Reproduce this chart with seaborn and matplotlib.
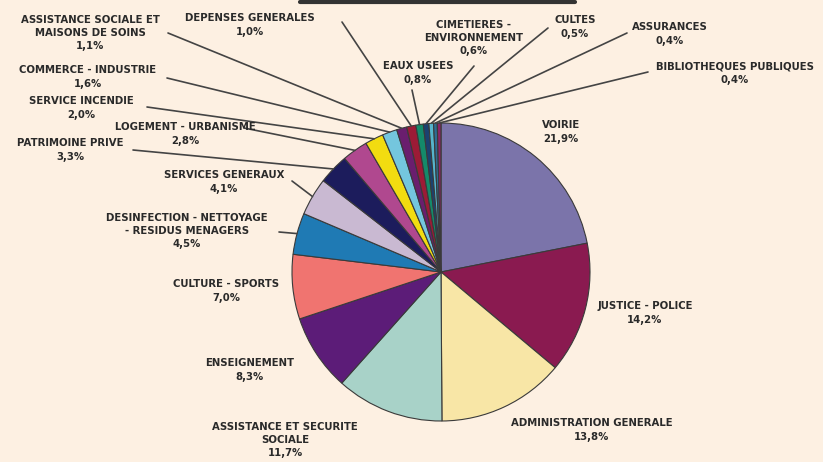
import numpy as np
import matplotlib.pyplot as plt
import seaborn as sns
from matplotlib.lines import Line2D

# Budget shares (%), clockwise from 12 o'clock
categories = [
    'VOIRIE', 'JUSTICE - POLICE', 'ADMINISTRATION GENERALE',
    'ASSISTANCE ET SECURITE\nSOCIALE', 'ENSEIGNEMENT', 'CULTURE - SPORTS',
    'DESINFECTION - NETTOYAGE\n- RESIDUS MENAGERS', 'SERVICES GENERAUX',
    'PATRIMOINE PRIVE', 'LOGEMENT - URBANISME', 'SERVICE INCENDIE',
    'COMMERCE - INDUSTRIE', 'ASSISTANCE SOCIALE ET\nMAISONS DE SOINS',
    'DEPENSES GENERALES', 'EAUX USEES', 'CIMETIERES -\nENVIRONNEMENT',
    'CULTES', 'ASSURANCES', 'BIBLIOTHEQUES PUBLIQUES',
]
shares = [21.9, 14.2, 13.8, 11.7, 8.3, 7.0, 4.5, 4.1, 3.3, 2.8, 2.0,
          1.6, 1.1, 1.0, 0.8, 0.6, 0.5, 0.4, 0.4]
share_labels = ['21,9%', '14,2%', '13,8%', '11,7%', '8,3%', '7,0%', '4,5%',
                '4,1%', '3,3%', '2,8%', '2,0%', '1,6%', '1,1%', '1,0%',
                '0,8%', '0,6%', '0,5%', '0,4%', '0,4%']

colors = ['#7b74aa', '#8a1a50', '#f8e6a6', '#a8d2c8', '#5c1c78', '#f07470',
          '#1f7ab4', '#c9b9d2', '#1c1c5c', '#b0488f', '#f2dc10', '#74c6de',
          '#6a1e6e', '#9c1b36', '#148a6a', '#1b4270', '#56b4cc', '#2e6c94',
          '#8c2464']

W, H = 823, 462
bg = '#fdf0e2'

# label text position (px), leader start (px) or None
label_pos = [
    (561, 132, None), (645, 313, None), (592, 430, None),
    (285, 440, None), (250, 370, None), (226, 291, None),
    (187, 231, (279, 232)), (224, 182, (292, 181)),
    (70, 150, (133, 150)), (185, 134, (244, 128)),
    (81, 108, (147, 107)), (88, 77, (167, 78)),
    (90, 33, (168, 33)), (250, 25, (342, 22)),
    (418, 73, (412, 90)), (474, 38, (474, 66)),
    (575, 27, (548, 28)), (670, 34, (627, 33)),
    (735, 73, (648, 72)),
]

sns.set_style('white')
plt.rcParams['font.family'] = ['DejaVu Sans']

fig = plt.figure(figsize=(W / 100, H / 100), dpi=100, facecolor=bg)
ax = fig.add_axes([0, 0, 1, 1])
ax.set_facecolor(bg)

cx, cy, r = 441, H - 272, 149
wedges, _ = ax.pie(shares, colors=colors, startangle=90, counterclock=False,
                   center=(cx, cy), radius=r, frame=True,
                   wedgeprops=dict(edgecolor='#3a3a3a', linewidth=0.8))
ax.set_xlim(0, W)
ax.set_ylim(0, H)
ax.set_aspect('equal')
ax.axis('off')

for w, name, lab, (tx, ty, lead) in zip(wedges, categories, share_labels, label_pos):
    ax.text(tx, H - ty, name + '\n' + lab, ha='center', va='center',
            fontsize=7.3, fontweight='bold', color='#2a2a2a', linespacing=1.4)
    if lead is not None:
        ang = np.deg2rad((w.theta1 + w.theta2) / 2)
        ex, ey = cx + r * np.cos(ang), cy + r * np.sin(ang)
        ax.plot([lead[0], ex], [H - lead[1], ey], color='#444444', lw=1.2,
                solid_capstyle='round')

# underline of the cropped title
fig.add_artist(Line2D([300 / W, 575 / W], [1 - 2 / H, 1 - 2 / H],
                      color='#333333', lw=3))

fig.savefig('out.png', dpi=100, facecolor=bg)
